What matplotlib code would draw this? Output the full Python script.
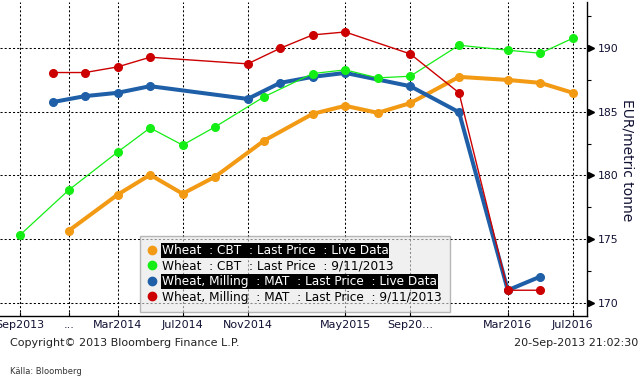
import matplotlib
matplotlib.use("Agg")
import matplotlib.pyplot as plt
from matplotlib.lines import Line2D
import numpy as np

# contract months and prices (EUR/metric tonne)
cbt_live_months = ["2013-12", "2014-03", "2014-05", "2014-07", "2014-09", "2014-12", "2015-03",
                   "2015-05", "2015-07", "2015-09", "2015-12", "2016-03", "2016-05", "2016-07"]
cbt_live = [175.67, 178.49, 180.05, 178.57, 179.90, 182.72, 184.83,
            185.46, 184.91, 185.67, 187.73, 187.49, 187.26, 186.48]

cbt_old_months = ["2013-09"] + cbt_live_months
cbt_old = [175.33, 178.86, 181.83, 183.73, 182.38, 183.81, 186.16, 187.99,
           188.28, 187.65, 187.78, 190.21, 189.82, 189.58, 190.76]

mat_months = ["2013-11", "2014-01", "2014-03", "2014-05", "2014-11", "2015-01",
              "2015-03", "2015-05", "2015-09", "2015-12", "2016-03", "2016-05"]
mat_live = [185.75, 186.22, 186.48, 187.00, 186.00, 187.26,
            187.73, 188.04, 187.00, 184.96, 171.00, 172.07]
mat_old = [188.07, 188.07, 188.51, 189.27, 188.75, 189.97,
           191.02, 191.25, 189.53, 186.48, 171.00, 171.00]

tick_months = ["2013-09", "2013-12", "2014-03", "2014-07", "2014-11",
               "2015-05", "2015-09", "2016-03", "2016-07"]
tick_labels = ["Sep2013", "...", "Mar2014", "Jul2014", "Nov2014",
               "May2015", "Sep20...", "Mar2016", "Jul2016"]

labels = ["Wheat  : CBT  : Last Price  : Live Data",
          "Wheat  : CBT  : Last Price  : 9/11/2013",
          "Wheat, Milling  : MAT  : Last Price  : Live Data",
          "Wheat, Milling  : MAT  : Last Price  : 9/11/2013"]
colors = ["#F39A14", "#14EE14", "#1E5FA8", "#CC0000"]


def month_idx(months):
    # months counted from Sep 2013
    return np.array([(int(m[:4]) - 2013) * 12 + int(m[5:]) - 9 for m in months])


fig = plt.figure(figsize=(6.41, 3.77), dpi=100)
ax = fig.add_axes([0.0, 1 - 316 / 377, 587 / 641, 314 / 377])

series = [(cbt_live_months, cbt_live, 2.9, 2),
          (cbt_old_months, cbt_old, 0.9, 3.5),
          (mat_months, mat_live, 2.9, 3),
          (mat_months, mat_old, 1.0, 4)]
for (months, vals, lw, z), c in zip(series, colors):
    ax.plot(month_idx(months), vals, color=c, lw=lw, marker="o", ms=5.5,
            mec=c, zorder=z, solid_joinstyle="round")

ax.set_xlim(-20 / 16.26, (587 - 20) / 16.26)
ax.set_ylim(168.98, 193.6)

ax.set_xticks(month_idx(tick_months))
ax.set_xticklabels(tick_labels)
ax.set_yticks([170, 175, 180, 185, 190])
ax.set_yticks([172.5, 177.5, 182.5, 187.5, 192.5], minor=True)
ax.yaxis.tick_right()

ax.grid(True, which="major", color="black", lw=0.75, ls=(0, (2, 2)), zorder=0)
for s in ["left", "top"]:
    ax.spines[s].set_visible(False)
for s in ["bottom", "right"]:
    ax.spines[s].set_color("black")
    ax.spines[s].set_linewidth(1.0)

navy = "#111133"
ax.tick_params(axis="x", direction="in", length=3, width=0.8, pad=3,
               labelsize=8, labelcolor=navy)
ax.tick_params(axis="y", which="major", length=0, pad=7.5, labelsize=7.8,
               labelcolor=navy)
ax.tick_params(axis="y", which="minor", direction="out", length=3, width=0.8)
# triangle markers for the major y ticks
ax.plot([1.006] * 5, [170, 175, 180, 185, 190], ls="none", marker=">", ms=5,
        color="black", transform=ax.get_yaxis_transform(), clip_on=False)

handles = [Line2D([], [], ls="none", marker="o", ms=6, color=c) for c in colors]
leg = ax.legend(handles, labels, loc="lower left", bbox_to_anchor=(140 / 587, 4 / 314),
                borderaxespad=0, fontsize=8.7, handlelength=0.6, handletextpad=0.5,
                labelspacing=0.2, borderpad=0.7, fancybox=False,
                facecolor="#E6E6E6", edgecolor="#8C8C8C", framealpha=0.6)
for i in (0, 2):
    t = leg.get_texts()[i]
    t.set_color("white")
    t.set_bbox(dict(facecolor="black", edgecolor="none", pad=0.6))

fig.text(628 / 641, 1 - 160 / 377, "EUR/metric tonne", rotation=270,
         ha="center", va="center", fontsize=10, color=navy)
fig.text(10 / 641, 1 - 343 / 377, "Copyright\u00a9 2013 Bloomberg Finance L.P.",
         fontsize=8, va="center", color="#222222")
fig.text(638 / 641, 1 - 343 / 377, "20-Sep-2013 21:02:30", fontsize=8,
         ha="right", va="center", color="#222222")
fig.text(10 / 641, 1 - 371 / 377, "Källa: Bloomberg", fontsize=6,
         family=["Liberation Sans Narrow", "DejaVu Sans"], va="center", color="#333333")

fig.savefig("out.png", dpi=100)
